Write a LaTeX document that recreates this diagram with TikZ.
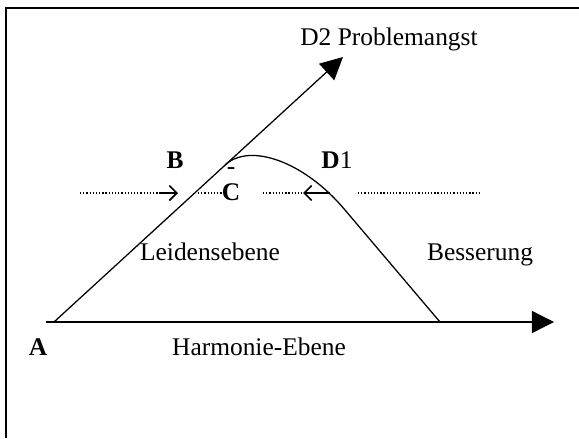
\documentclass[tikz,border=0pt]{standalone}
\usepackage{fontspec}
\setmainfont{Liberation Serif}
\usetikzlibrary{arrows.meta}

\begin{document}
\begin{tikzpicture}[x=0.01658cm,y=-0.01658cm,line width=0.6pt,
  font=\fontsize{12}{14}\selectfont,
  >={Triangle[length=10.5pt,width=10.5pt]},
  lbl/.style={inner sep=0pt,anchor=base},
  bold lbl/.style={lbl,font=\fontsize{12}{14}\selectfont\bfseries},
  dots/.style={line width=0.8pt,dash pattern=on 0.6pt off 0.9pt},
  small arrow/.style={line width=0.8pt,-{Straight Barb[length=3.5pt,width=7pt]}}]
\useasboundingbox (0,0) rectangle (579,438);
% frame
\draw[line width=1pt] (579,8) -- (6,8) -- (6,438);

% axes and curve
\coordinate (h0) at (46,322);
\coordinate (h1) at (554,322);
\coordinate (a) at (54,322);
\coordinate (d2) at (343,57);
\coordinate (top) at (225,165);
\coordinate (knee) at (345,210);
\coordinate (foot) at (440,322);
\draw[->] (h0) -- (h1);
\draw[->] (a) -- (d2);
\draw (top) .. controls (250,142) and (305,162) .. (knee) -- (foot);

% dotted level
\coordinate (l0) at (80,193);
\coordinate (l1) at (160,193);
\coordinate (l2) at (178,193);
\coordinate (m0) at (198,193);
\coordinate (m1) at (222,193);
\coordinate (r0) at (263,193);
\coordinate (r1) at (303,193);
\coordinate (r2) at (330,193);
\coordinate (s0) at (358,193);
\coordinate (s1) at (480,193);
\draw[dots] (l0) -- (l1);
\draw[small arrow] (l1) -- (l2);
\draw[dots] (m0) -- (m1);
\draw[dots] (r0) -- (r1);
\draw[small arrow] (r2) -- (r1);
\draw[dots] (s0) -- (s1);

% labels
\node[lbl] (d2lbl) at (389,45) {D2 Problemangst};
\node[bold lbl] (b) at (175,168) {B};
\node[lbl] (d1) at (337,168) {\textbf{D}1};
\node[bold lbl] (c) at (231,200) {C};
\node[lbl] (dash) at (231,174) {-};
\node[lbl] (leiden) at (210,260) {Leidensebene};
\node[lbl] (besser) at (480,260) {Besserung};
\node[bold lbl] (alab) at (38,355) {A};
\node[lbl] (harm) at (259,355) {Harmonie-Ebene};
\end{tikzpicture}
\end{document}
